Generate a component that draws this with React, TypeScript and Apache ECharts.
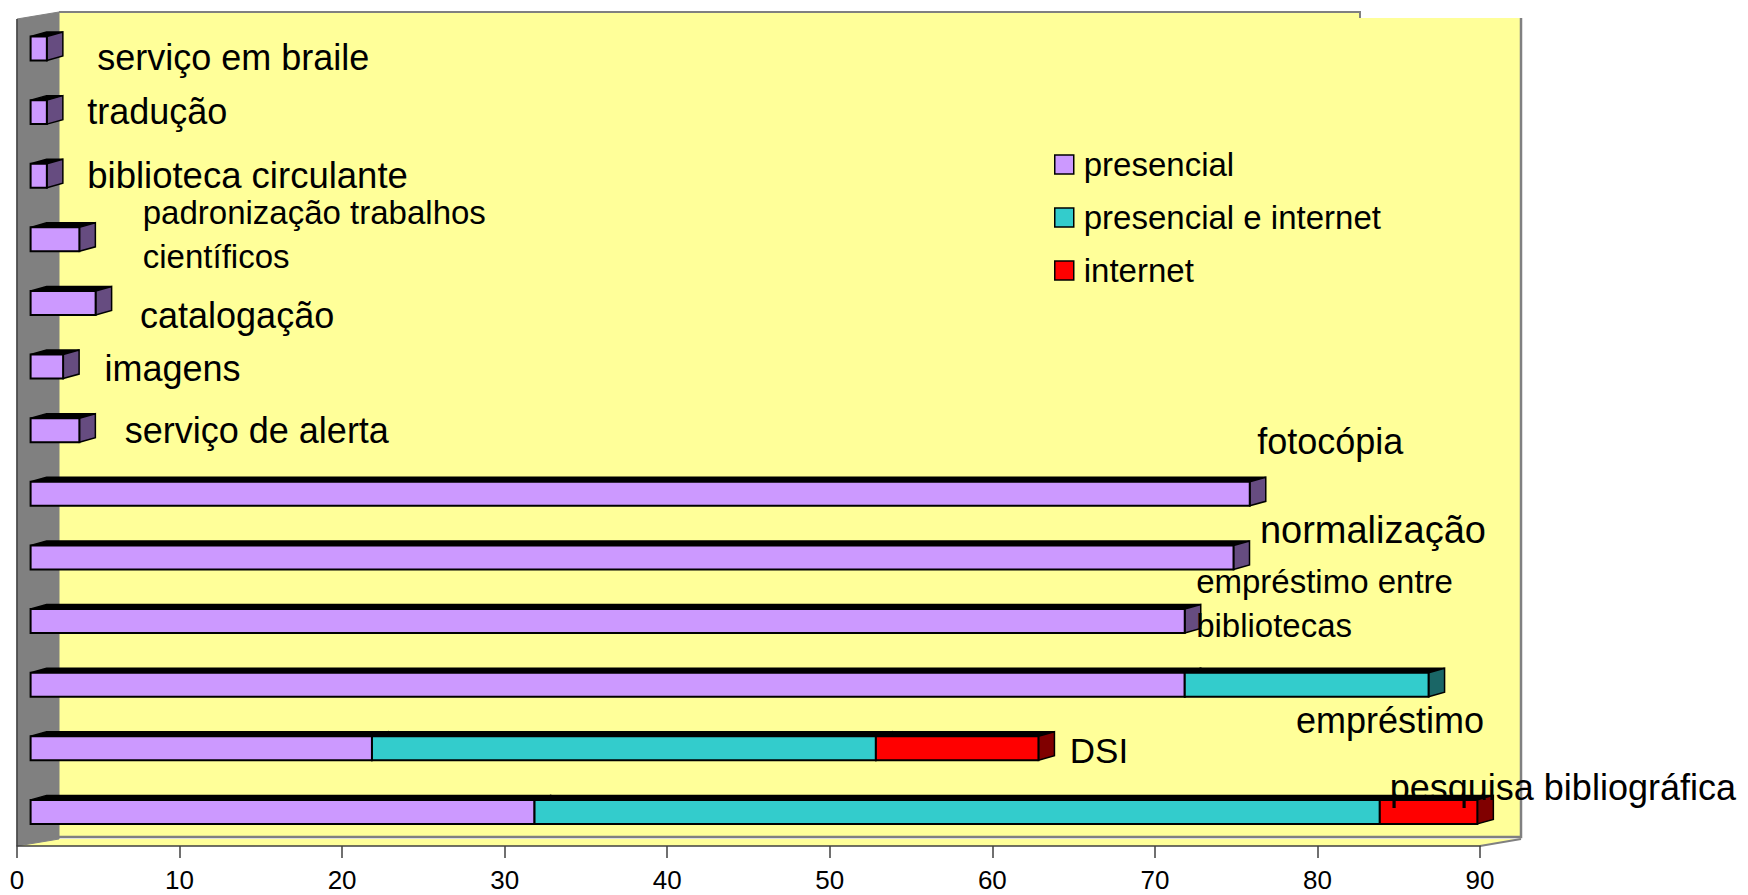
import React, { useEffect, useRef } from "react";
import * as echarts from "echarts";

// Categories listed from bottom to top
const categories = [
  "pesquisa bibliográfica",
  "DSI",
  "empréstimo",
  "empréstimo entre\nbibliotecas",
  "normalização",
  "fotocópia",
  "serviço de alerta",
  "imagens",
  "catalogação",
  "padronização trabalhos\ncientíficos",
  "biblioteca circulante",
  "tradução",
  "serviço em braile",
];
const seriesNames = ["presencial", "presencial e internet", "internet"];
const presencial = [31, 21, 71, 71, 74, 75, 3, 2, 4, 3, 1, 1, 1];
const presencialInternet = [52, 31, 15, 0, 0, 0, 0, 0, 0, 0, 0, 0, 0];
const internet = [6, 10, 0, 0, 0, 0, 0, 0, 0, 0, 0, 0, 0];
const xTicks = [0, 10, 20, 30, 40, 50, 60, 70, 80, 90];

// label layout: [dx from bar end, dy from category centre, fontSize, lineHeight]
const labelLayout: number[][] = [
  [-74, -27, 36, 36],
  [45, 0, 35, 35],
  [-119, 34, 36, 36],
  [25, -20, 33, 44],
  [40, -30, 38, 38],
  [21, -55, 36, 36],
  [59, -2, 36, 36],
  [55, 0, 36, 36],
  [58, 10, 36, 36],
  [77, -7, 33, 44],
  [54, -3, 36.5, 36],
  [54, -3, 36, 36],
  [64, 7, 36, 36],
];

const colors = ["#CC99FF", "#33CCCC", "#FF0000"];
const sideColors = ["#664C80", "#1A6666", "#800000"];
const FONT = "'Liberation Sans', Arial, sans-serif";

export default function App() {
  const ref = useRef<HTMLDivElement>(null);
  useEffect(() => {
    if (!ref.current) return;
    const chart = echarts.init(ref.current, undefined, { renderer: "svg" });
    const values = [presencial, presencialInternet, internet];
    const totals = categories.map((_, i) => values.reduce((s, arr) => s + arr[i], 0));

    const barSeries = values.map((arr, si) => {
      const data: number[][] = [];
      arr.forEach((v, ci) => {
        if (v <= 0) return;
        let start = 0;
        for (let k = 0; k < si; k++) start += values[k][ci];
        data.push([ci, start, start + v]);
      });
      return {
        type: "custom",
        name: seriesNames[si],
        itemStyle: { color: colors[si], borderColor: "#000", borderWidth: 1.5 },
        encode: { x: [1, 2], y: 0 },
        z: 3 + si,
        data,
        renderItem: (params: any, api: any) => {
          const cat = api.value(0);
          const p0 = api.coord([api.value(1), cat]);
          const p1 = api.coord([api.value(2), cat]);
          const band = api.size([0, 1])[1];
          const h = band * 0.377;
          const fx = 13.6, fy = -2.3, dx = 16, dy = -4.5;
          const x0 = p0[0] + fx;
          const x1 = p1[0] + fx;
          const yc = p0[1] + fy;
          const yt = yc - h / 2;
          const yb = yc + h / 2;
          return {
            type: "group",
            children: [
              {
                type: "polygon",
                shape: { points: [[x0, yt], [x1, yt], [x1 + dx, yt + dy], [x0 + dx, yt + dy]] },
                style: { fill: "#000", stroke: "#000", lineWidth: 1.5 },
              },
              {
                type: "polygon",
                shape: { points: [[x1, yt], [x1 + dx, yt + dy], [x1 + dx, yb + dy], [x1, yb]] },
                style: { fill: sideColors[si], stroke: "#000", lineWidth: 1.5 },
              },
              {
                type: "rect",
                shape: { x: x0, y: yt, width: x1 - x0, height: h },
                style: { fill: colors[si], stroke: "#000", lineWidth: 2 },
              },
            ],
          };
        },
      };
    });

    const labelSeries = {
      type: "custom",
      name: "labels",
      z: 10,
      encode: { x: 1, y: 0 },
      data: categories.map((_, i) => [i, totals[i]]),
      renderItem: (params: any, api: any) => {
        const ci = api.value(0);
        const p = api.coord([api.value(1), ci]);
        const [ldx, ldy, fs, lh] = labelLayout[ci];
        return {
          type: "text",
          x: p[0] + ldx,
          y: p[1] + ldy,
          style: {
            text: categories[ci],
            fill: "#000",
            fontSize: fs,
            fontFamily: FONT,
            lineHeight: lh,
            align: "left",
            verticalAlign: "middle",
          },
        };
      },
    };

    const option: any = {
      animation: false,
      backgroundColor: "#fff",
      grid: { left: 17, right: 268, top: 19, bottom: 49 },
      xAxis: {
        type: "value",
        min: xTicks[0],
        max: xTicks[xTicks.length - 1],
        interval: 10,
        axisLine: { show: true, lineStyle: { color: "#404040", width: 1.5 } },
        axisTick: { show: true, length: 12, lineStyle: { color: "#404040", width: 1.5 } },
        axisLabel: { color: "#000", fontSize: 26, fontFamily: FONT, margin: 21 },
        splitLine: { show: false },
      },
      yAxis: {
        type: "category",
        data: categories,
        show: false,
      },
      legend: {
        data: seriesNames,
        orient: "vertical",
        left: 1049,
        top: 143,
        itemWidth: 19,
        itemHeight: 19,
        itemGap: 20,
        icon: "rect",
        itemStyle: { borderColor: "#000", borderWidth: 1.5 },
        textStyle: { color: "#000", fontSize: 33, fontFamily: FONT, padding: [0, 0, 0, 5] },
        selectedMode: false,
      },
      graphic: [
        {
          type: "polygon",
          z: -10,
          shape: {
            points: [[59, 12], [1360, 12], [1360, 18], [1521, 18], [1521, 837], [59, 837]],
          },
          style: { fill: "#FFFF99", stroke: "none" },
        },
        {
          type: "polygon",
          z: -10,
          shape: { points: [[17, 846], [1480, 846], [1521, 839], [59, 839]] },
          style: { fill: "#FFFF99", stroke: "none" },
        },
        {
          type: "polygon",
          z: -9,
          shape: { points: [[17, 19], [59, 12], [59, 839], [17, 846]] },
          style: { fill: "#808080", stroke: "#808080", lineWidth: 1 },
        },
        {
          type: "polyline",
          z: -8,
          shape: { points: [[59, 12], [1360, 12], [1360, 18]] },
          style: { stroke: "#808080", lineWidth: 2, fill: "none" },
        },
        {
          type: "polyline",
          z: -8,
          shape: { points: [[1521, 18], [1521, 837], [59, 837]] },
          style: { stroke: "#808080", lineWidth: 2.5, fill: "none" },
        },
        {
          type: "line",
          z: -8,
          shape: { x1: 1480, y1: 846, x2: 1521, y2: 839 },
          style: { stroke: "#808080", lineWidth: 2 },
        },
        {
          type: "line",
          z: -8,
          shape: { x1: 17, y1: 19, x2: 17, y2: 846 },
          style: { stroke: "#404040", lineWidth: 1.5 },
        },
      ],
      series: [...barSeries, labelSeries],
    };
    chart.setOption(option);
    return () => chart.dispose();
  }, []);
  return (
    <div
      ref={ref}
      style={{ position: "absolute", left: 0, top: 0, width: 1748, height: 895 }}
    />
  );
}
